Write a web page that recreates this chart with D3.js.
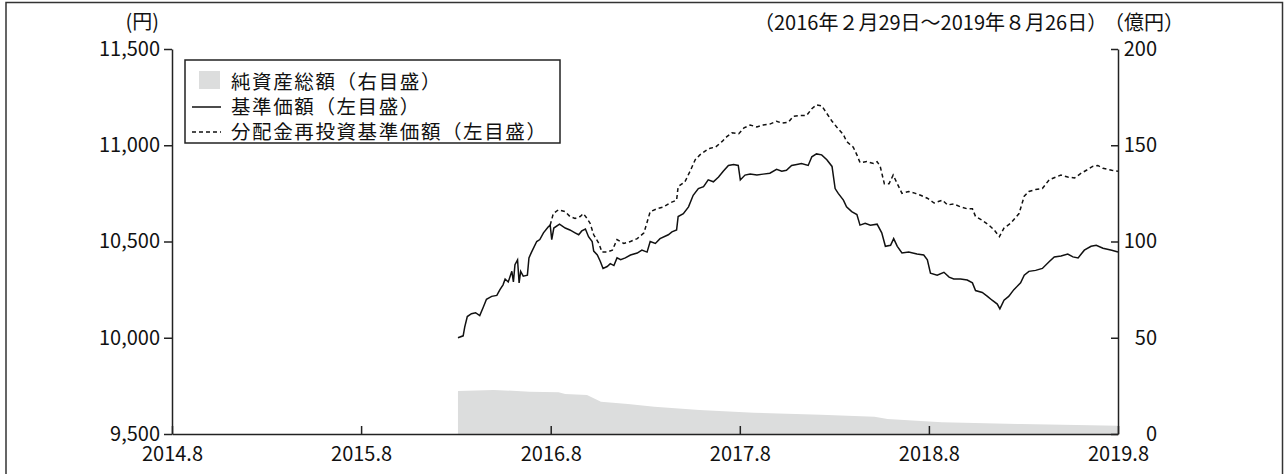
<!DOCTYPE html>
<html>
<head>
<meta charset="utf-8">
<script src="https://cdn.jsdelivr.net/npm/d3@7"></script>
<style>
  body { margin: 0; background: #fff; }
  svg text { font-family: "Noto Sans CJK JP", sans-serif; font-size: 20px; fill: #111; }
</style>
</head>
<body>
<svg id="chart" width="1286" height="474"></svg>
<script>
// 基準価額（円）
const navDates = [
  '2016-02-29','2016-03-10','2016-03-13','2016-03-18','2016-03-26','2016-04-03','2016-04-11','2016-04-18','2016-04-24','2016-05-04',
  '2016-05-14','2016-05-20','2016-05-26','2016-05-30','2016-06-05','2016-06-12','2016-06-15','2016-06-18','2016-06-23','2016-06-26',
  '2016-06-29','2016-07-04','2016-07-12','2016-07-15','2016-07-20','2016-07-30','2016-08-05','2016-08-12','2016-08-21','2016-08-25',
  '2016-08-28','2016-09-01','2016-09-12','2016-09-23','2016-10-02','2016-10-12','2016-10-19','2016-10-25','2016-11-01','2016-11-07',
  '2016-11-14','2016-11-17','2016-11-24','2016-11-30','2016-12-05','2016-12-13','2016-12-19','2016-12-26','2017-01-01','2017-01-08',
  '2017-01-17','2017-01-27','2017-02-09','2017-02-18','2017-02-28','2017-03-06','2017-03-16','2017-03-25','2017-04-10','2017-04-17',
  '2017-04-26','2017-04-29','2017-05-09','2017-05-19','2017-05-28','2017-06-07','2017-06-17','2017-06-26','2017-07-06','2017-07-16',
  '2017-07-25','2017-08-04','2017-08-14','2017-08-23','2017-08-27','2017-09-05','2017-09-15','2017-09-28','2017-10-10','2017-10-23',
  '2017-11-05','2017-11-15','2017-11-24','2017-12-04','2017-12-14','2017-12-23','2018-01-05','2018-01-12','2018-01-21','2018-01-31',
  '2018-02-10','2018-02-20','2018-02-26','2018-03-04','2018-03-14','2018-03-20','2018-03-30','2018-04-09','2018-04-15','2018-04-25',
  '2018-05-05','2018-05-18','2018-05-27','2018-06-03','2018-06-13','2018-06-19','2018-06-26','2018-07-05','2018-07-18','2018-08-03',
  '2018-08-16','2018-08-23','2018-08-29','2018-09-11','2018-09-24','2018-10-04','2018-10-13','2018-10-26','2018-11-08','2018-11-18',
  '2018-11-24','2018-12-07','2018-12-17','2018-12-26','2019-01-05','2019-01-10','2019-01-18','2019-01-27','2019-02-06','2019-02-19',
  '2019-02-26','2019-03-07','2019-03-20','2019-04-02','2019-04-15','2019-04-25','2019-05-08','2019-05-21','2019-05-31','2019-06-10',
  '2019-06-22','2019-07-05','2019-07-15','2019-07-28','2019-08-14','2019-08-26'
];
const navValues = [
  10000,10010,10055,10110,10125,10130,10115,10160,10200,10215,
  10220,10250,10275,10305,10290,10345,10290,10380,10405,10285,
  10345,10320,10325,10415,10445,10500,10510,10545,10575,10585,
  10510,10570,10590,10570,10560,10545,10535,10555,10565,10525,
  10500,10450,10430,10395,10360,10370,10385,10375,10415,10405,
  10415,10430,10440,10455,10445,10500,10490,10515,10535,10550,
  10560,10630,10645,10680,10740,10775,10785,10820,10810,10835,
  10865,10895,10900,10895,10820,10845,10850,10845,10850,10855,
  10875,10865,10870,10895,10900,10905,10895,10940,10955,10950,
  10925,10890,10775,10750,10715,10680,10655,10640,10585,10595,
  10585,10590,10545,10475,10480,10515,10475,10440,10445,10435,
  10430,10405,10335,10325,10340,10315,10305,10305,10300,10285,
  10245,10235,10215,10195,10175,10150,10195,10215,10250,10285,
  10325,10345,10350,10360,10395,10420,10425,10435,10420,10415,
  10455,10475,10480,10465,10455,10445
];

// 分配金再投資基準価額（円）: 最初の分配までは基準価額と重なる
const reinvDates = [
  '2016-08-25','2016-08-31','2016-09-10','2016-09-23','2016-10-02','2016-10-12','2016-10-22','2016-10-28','2016-11-04','2016-11-10',
  '2016-11-17','2016-11-27','2016-12-03','2016-12-13','2016-12-23','2017-01-01','2017-01-14','2017-01-27','2017-02-09','2017-02-22',
  '2017-02-28','2017-03-06','2017-03-19','2017-04-01','2017-04-13','2017-04-26','2017-04-29','2017-05-12','2017-05-22','2017-06-01',
  '2017-06-10','2017-06-23','2017-06-30','2017-07-10','2017-07-23','2017-08-01','2017-08-11','2017-08-24','2017-09-03','2017-09-15',
  '2017-09-28','2017-10-10','2017-10-23','2017-11-05','2017-11-15','2017-11-28','2017-12-07','2017-12-20','2018-01-02','2018-01-12',
  '2018-01-21','2018-01-31','2018-02-10','2018-02-20','2018-03-01','2018-03-14','2018-03-20','2018-04-02','2018-04-09','2018-04-15',
  '2018-04-28','2018-05-11','2018-05-18','2018-05-24','2018-06-01','2018-06-10','2018-06-18','2018-06-26','2018-07-05','2018-07-18',
  '2018-07-31','2018-08-10','2018-08-23','2018-09-05','2018-09-21','2018-10-01','2018-10-13','2018-10-26','2018-11-08','2018-11-18',
  '2018-11-24','2018-12-07','2018-12-20','2018-12-30','2019-01-09','2019-01-18','2019-01-31','2019-02-16','2019-02-26','2019-03-07',
  '2019-03-20','2019-04-02','2019-04-15','2019-04-28','2019-05-08','2019-05-21','2019-06-03','2019-06-16','2019-06-26','2019-07-08',
  '2019-07-18','2019-07-28','2019-08-14','2019-08-26'
];
const reinvValues = [
  10585,10645,10665,10655,10630,10620,10630,10645,10620,10595,
  10535,10490,10445,10445,10455,10510,10490,10500,10515,10545,
  10600,10655,10670,10680,10700,10715,10785,10810,10865,10925,
  10950,10975,10985,10990,11020,11045,11065,11060,11090,11105,
  11095,11105,11110,11125,11115,11120,11150,11155,11155,11190,
  11210,11205,11165,11125,11095,11055,11020,10990,10950,10910,
  10915,10905,10915,10890,10800,10800,10845,10800,10750,10760,
  10750,10740,10725,10700,10715,10690,10695,10680,10670,10670,
  10630,10610,10585,10560,10525,10570,10595,10645,10735,10760,
  10770,10775,10820,10835,10845,10835,10830,10855,10870,10890,
  10895,10880,10870,10865
];

// 純資産総額（億円）
const assetDates = [
  '2016-02-29','2016-05-08','2016-07-16','2016-09-10','2016-09-23','2016-11-04','2016-12-01','2017-01-22','2017-03-14',
  '2017-06-09','2017-09-22','2018-01-29','2018-05-13','2018-06-07','2018-09-20','2019-02-20','2019-08-26'
];
const assetValues = [22.3, 22.9, 22.0, 21.7, 20.8, 20.3, 16.8, 15.6, 14.2, 12.5, 11.1, 10.0, 8.9, 7.8, 6.1, 5.2, 4.3];

const xTickDates = ['2014-08-26','2015-08-26','2016-08-26','2017-08-26','2018-08-26','2019-08-26'];
const xTickLabels = ['2014.8','2015.8','2016.8','2017.8','2018.8','2019.8'];
const leftTicks = [9500, 10000, 10500, 11000, 11500];
const rightTicks = [0, 50, 100, 150, 200];
const legendLabels = ['純資産総額（右目盛）', '基準価額（左目盛）', '分配金再投資基準価額（左目盛）'];

const parse = d3.timeParse('%Y-%m-%d');
const nav = navDates.map((d, i) => ({ date: parse(d), value: navValues[i] }));
const reinv = reinvDates.map((d, i) => ({ date: parse(d), value: reinvValues[i] }));
const assets = assetDates.map((d, i) => ({ date: parse(d), value: assetValues[i] }));

const svg = d3.select('#chart');
const margin = { left: 172, right: 1118, top: 49, bottom: 434 };

const x = d3.scaleTime()
  .domain([parse(xTickDates[0]), parse(xTickDates[xTickDates.length - 1])])
  .range([margin.left, margin.right]);
const yL = d3.scaleLinear().domain([9500, 11500]).range([margin.bottom, margin.top]);
const yR = d3.scaleLinear().domain([0, 200]).range([margin.bottom, margin.top]);

// outer frame
svg.append('rect')
  .attr('x', 6).attr('y', 2.5).attr('width', 1276.5).attr('height', 480)
  .attr('fill', 'none').attr('stroke', '#333').attr('stroke-width', 1.5);

// area
svg.append('path')
  .datum(assets)
  .attr('fill', '#dcdddd')
  .attr('d', d3.area().x(d => x(d.date)).y0(yR(0)).y1(d => yR(d.value)));

// lines
svg.append('path')
  .datum(reinv)
  .attr('fill', 'none').attr('stroke', '#111').attr('stroke-width', 1.5)
  .attr('stroke-dasharray', '4,3')
  .attr('d', d3.line().x(d => x(d.date)).y(d => yL(d.value)));

svg.append('path')
  .datum(nav)
  .attr('fill', 'none').attr('stroke', '#111').attr('stroke-width', 1.5)
  .attr('d', d3.line().x(d => x(d.date)).y(d => yL(d.value)));

// axes
const styleAxis = g => {
  g.select('.domain').attr('stroke', '#222').attr('stroke-width', 1.5);
  g.selectAll('.tick line').attr('stroke', '#222').attr('stroke-width', 1.5);
  g.selectAll('.tick text').attr('fill', '#111').style('font-size', '20px');
};

svg.append('g')
  .attr('transform', `translate(${margin.left},0)`)
  .call(d3.axisLeft(yL).tickValues(leftTicks).tickFormat(d3.format(',')).tickSize(8).tickPadding(4).tickSizeOuter(0))
  .call(styleAxis);

svg.append('g')
  .attr('transform', `translate(${margin.right},0)`)
  .call(d3.axisRight(yR).tickValues(rightTicks).tickSize(-7).tickPadding(0).tickSizeOuter(0))
  .call(styleAxis)
  .call(g => g.selectAll('.tick text').attr('x', 39).attr('text-anchor', 'end'));

svg.append('g')
  .attr('transform', `translate(0,${margin.bottom})`)
  .call(d3.axisBottom(x).tickValues(xTickDates.map(parse)).tickFormat((d, i) => xTickLabels[i]).tickSize(-8).tickPadding(13).tickSizeOuter(0))
  .call(styleAxis);

// axis titles
svg.append('text').attr('x', 159).attr('y', 29).attr('text-anchor', 'end').text('(円)');
svg.append('text').attr('x', 754).attr('y', 30).text('（2016年２月29日～2019年８月26日）');
svg.append('text').attr('x', 1104).attr('y', 30).text('（億円）');

// legend
const lg = svg.append('g');
lg.append('rect')
  .attr('x', 185).attr('y', 60).attr('width', 375).attr('height', 83)
  .attr('fill', '#fff').attr('stroke', '#222').attr('stroke-width', 1.5);
lg.append('rect').attr('x', 199).attr('y', 71).attr('width', 21).attr('height', 18).attr('fill', '#dcdddd');
lg.append('line').attr('x1', 192).attr('x2', 221).attr('y1', 107).attr('y2', 107)
  .attr('stroke', '#111').attr('stroke-width', 1.5);
lg.append('line').attr('x1', 192).attr('x2', 221).attr('y1', 132).attr('y2', 132)
  .attr('stroke', '#111').attr('stroke-width', 1.5).attr('stroke-dasharray', '4,3');
lg.selectAll('text.lab')
  .data(legendLabels)
  .join('text')
  .attr('class', 'lab')
  .attr('x', 231)
  .attr('y', (d, i) => 82 + i * 25)
  .attr('dy', '0.35em')
  .style('font-size', '19.5px')
  .style('letter-spacing', '1.6px')
  .text(d => d);
</script>
</body>
</html>
